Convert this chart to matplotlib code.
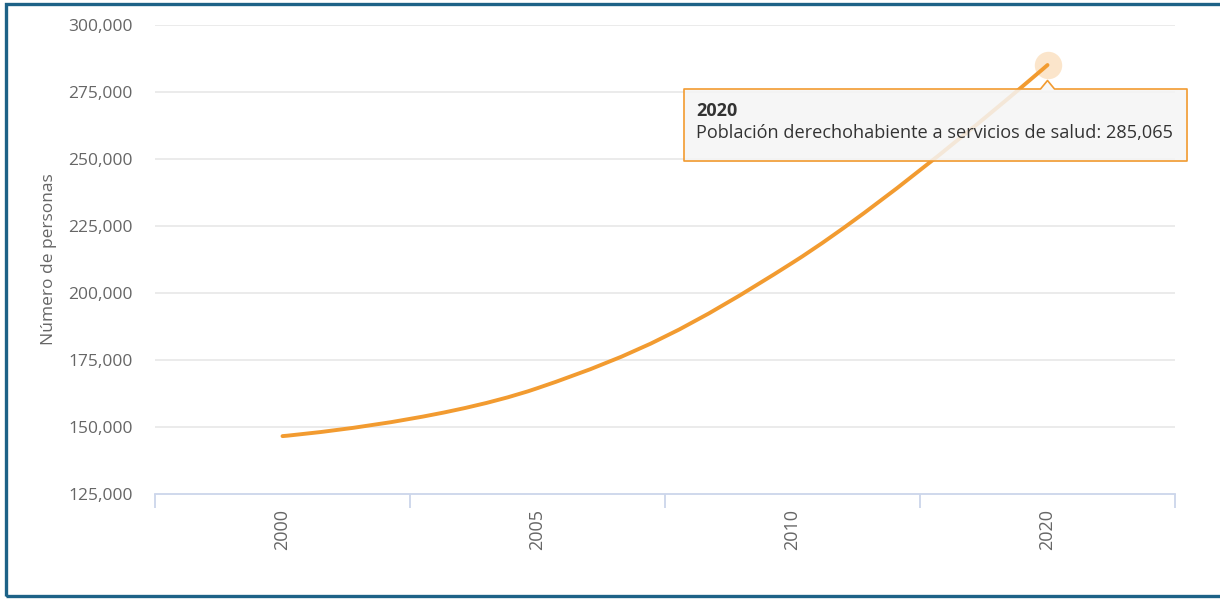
import matplotlib
matplotlib.use("Agg")
import matplotlib.pyplot as plt
from matplotlib.path import Path
from matplotlib.patches import PathPatch, Rectangle, FancyBboxPatch, Polygon
from matplotlib.ticker import FuncFormatter, MultipleLocator
import numpy as np

years = ["2000", "2005", "2010", "2020"]
derechohabientes = [146600, 164500, 211300, 285065]
series_name = "Población derechohabiente a servicios de salud"
y_title = "Número de personas"
highlight_index = 3

LINE = "#F29B30"
GRID = "#e6e6e6"
AXIS = "#ccd6eb"
LABEL = "#666666"
FONT = ["Open Sans", "DejaVu Sans"]

plt.rcParams["font.family"] = FONT

W, H = 1220, 599
fig = plt.figure(figsize=(W / 100, H / 100), dpi=100)
fig.patch.set_facecolor("white")

# plot area in pixels: x 155..1175, y 25..494 (from top)
ax = fig.add_axes([155 / W, (H - 494) / H, 1020 / W, 469 / H])
ax.set_facecolor("white")
ax.set_xlim(-0.5, len(years) - 0.5)
ax.set_ylim(125000, 300000)

for s in ["top", "right", "left"]:
    ax.spines[s].set_visible(False)
ax.spines["bottom"].set_color(AXIS)
ax.spines["bottom"].set_linewidth(1.3)

ax.yaxis.set_major_locator(MultipleLocator(25000))
ax.yaxis.set_major_formatter(FuncFormatter(lambda v, p: f"{int(v):,}"))
ax.tick_params(axis="y", length=0, pad=16, labelsize=12.5, labelcolor=LABEL)
for v in np.arange(150000, 300001, 25000):
    ax.axhline(v, color=GRID, lw=1.1, zorder=0)

# category boundaries as ticks, labels at category centres
xi = np.arange(len(years))
ax.set_xticks(np.arange(-0.5, len(years)), minor=False)
ax.set_xticklabels([""] * (len(years) + 1))
ax.tick_params(axis="x", which="major", length=10, width=1.3, color=AXIS, direction="out")
ax.set_xticks(xi, minor=True)
ax.set_xticklabels(years, minor=True, rotation=90, fontsize=13, color=LABEL)
ax.tick_params(axis="x", which="minor", length=0, pad=11)

ax.set_ylabel(y_title, fontsize=12.5, color=LABEL, labelpad=8)


def spline_path(xs, ys, smoothing=1.5):
    """Cubic bezier path using Highcharts-style control points."""
    denom = smoothing + 1
    n = len(xs)
    left = [None] * n
    right = [None] * n
    for i in range(1, n - 1):
        lx = (smoothing * xs[i] + xs[i - 1]) / denom
        ly = (smoothing * ys[i] + ys[i - 1]) / denom
        rx = (smoothing * xs[i] + xs[i + 1]) / denom
        ry = (smoothing * ys[i] + ys[i + 1]) / denom
        corr = (ry - ly) * (rx - xs[i]) / (rx - lx) + ys[i] - ry
        left[i] = (lx, ly + corr)
        right[i] = (rx, ry + corr)
    verts = [(xs[0], ys[0])]
    codes = [Path.MOVETO]
    for i in range(1, n):
        c1 = right[i - 1] if right[i - 1] is not None else (xs[i - 1], ys[i - 1])
        c2 = left[i] if left[i] is not None else (xs[i], ys[i])
        verts += [c1, c2, (xs[i], ys[i])]
        codes += [Path.CURVE4] * 3
    return Path(verts, codes)


path = spline_path(list(xi.astype(float)), [float(v) for v in derechohabientes])
ax.add_patch(PathPatch(path, facecolor="none", edgecolor=LINE, lw=2.8,
                       capstyle="round", zorder=3))

# hover halo on highlighted point
hx, hy = xi[highlight_index], derechohabientes[highlight_index]
ax.scatter([hx], [hy], s=390, color=LINE, alpha=0.25, lw=0, zorder=2)

# tooltip box (figure pixel coordinates measured from top)
def fy(y):
    return H - y

tip_ax = fig.add_axes([0, 0, 1, 1], facecolor="none")
tip_ax.set_xlim(0, W)
tip_ax.set_ylim(0, H)
tip_ax.axis("off")

px, py = ax.transData.transform((hx, hy))
bx0, bx1, by_top, by_bot = 684, 1187, 89, 161
# soft shadow
tip_ax.add_patch(FancyBboxPatch((bx0 + 1, fy(by_bot) - 1), bx1 - bx0, by_bot - by_top,
                                boxstyle="round,pad=0,rounding_size=3",
                                facecolor="black", alpha=0.05, lw=0, zorder=4))
outline = [
    (bx0, fy(by_top)), (px - 7, fy(by_top)), (px, fy(by_top - 8.5)), (px + 7, fy(by_top)),
    (bx1, fy(by_top)), (bx1, fy(by_bot)), (bx0, fy(by_bot)),
]
tip_ax.add_patch(Polygon(outline, closed=True, facecolor=(0.969, 0.969, 0.969, 0.85),
                         edgecolor=LINE, lw=1.2, joinstyle="round", zorder=5))
tip_ax.text(bx0 + 12, fy(111), years[highlight_index], fontsize=13, fontweight="bold",
            color="#333333", va="center", ha="left", zorder=6)
tip_ax.text(bx0 + 12, fy(133), f"{series_name}: {derechohabientes[highlight_index]:,}",
            fontsize=13.1, color="#333333", va="center", ha="left", zorder=6)

# outer frame
tip_ax.add_patch(Rectangle((5.5, 3.5), W + 20, H - 7, facecolor="none",
                           edgecolor="#1d6287", lw=2.4, zorder=7))

fig.savefig("out.png", dpi=100, facecolor="white")
